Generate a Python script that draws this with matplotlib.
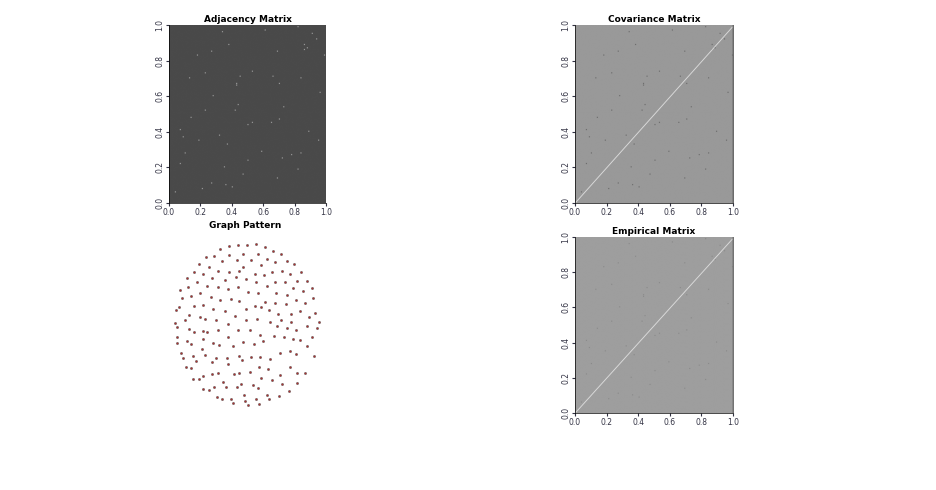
import numpy as np
import matplotlib.pyplot as plt

# edges (x, y in 0..1)
edge_x = [0.04, 0.07, 0.07, 0.09, 0.10, 0.13, 0.14, 0.18, 0.19, 0.21, 0.23, 0.23, 0.27, 0.27,
          0.28, 0.32, 0.34, 0.35, 0.36, 0.37, 0.38, 0.40, 0.42, 0.43, 0.43, 0.44, 0.45, 0.47,
          0.50, 0.50, 0.53, 0.53, 0.59, 0.61, 0.65, 0.66, 0.69, 0.69, 0.70, 0.70, 0.72, 0.73,
          0.78, 0.82, 0.82, 0.84, 0.84, 0.86, 0.86, 0.88, 0.89, 0.91, 0.94, 0.95, 0.96, 0.99]
edge_y = [0.06, 0.22, 0.41, 0.37, 0.28, 0.70, 0.48, 0.83, 0.35, 0.08, 0.73, 0.52, 0.11, 0.85,
          0.60, 0.38, 0.96, 0.20, 0.10, 0.33, 0.89, 0.09, 0.52, 0.67, 0.66, 0.55, 0.71, 0.16,
          0.24, 0.44, 0.45, 0.74, 0.29, 0.97, 0.45, 0.71, 0.85, 0.14, 0.67, 0.47, 0.25, 0.54,
          0.27, 0.99, 0.19, 0.28, 0.70, 0.86, 0.89, 0.87, 0.40, 0.95, 0.92, 0.35, 0.62, 0.83]

# node layout (pixel-ish units, y downward)
node_x = [180, 208, 235, 262, 288, 316, 340, 364, 138, 162, 208, 250, 272, 293, 322, 346, 380, 403,
          118, 148, 186, 230, 302, 248, 101, 128, 174, 208, 236, 285, 312, 336, 366, 390, 424,
          82, 111, 157, 195, 228, 258, 288, 320, 346, 376, 412, 441,
          60, 85, 119, 140, 175, 203, 234, 265, 295, 347, 380, 400, 428, 457,
          67, 93, 152, 181, 212, 238, 284, 314, 346, 378, 408, 436, 458,
          49, 58, 101, 130, 160, 195, 257, 302, 328, 355, 392, 421, 465,
          75, 86, 120, 135, 168, 224, 259, 292, 330, 363, 393, 448, 476,
          46, 52, 88, 103, 128, 140, 174, 203, 235, 270, 300, 352, 380, 409, 440, 472,
          50, 51, 80, 94, 128, 158, 176, 205, 218, 250, 282, 310, 342, 372, 398, 421, 455,
          63, 68, 100, 108, 127, 135, 155, 167, 201, 204, 238, 245, 272, 301, 331, 360, 390, 408, 440, 461,
          79, 93, 128, 116, 100, 157, 173, 221, 237, 270, 296, 325, 361, 389, 412, 434,
          130, 147, 162, 190, 197, 230, 244, 280, 293, 304, 336, 366, 386, 411,
          172, 185, 214, 218, 252, 254, 263, 288, 298, 320, 328, 356]
node_y = [58, 48, 45, 45, 43, 52, 62, 72, 80, 78, 75, 72, 90, 72, 87, 97, 93, 103,
          102, 110, 94, 90, 104, 112, 125, 131, 122, 125, 122, 133, 135, 125, 123, 132, 125,
          145, 157, 143, 150, 140, 148, 156, 168, 157, 155, 152, 152,
          180, 172, 190, 169, 172, 177, 172, 186, 190, 188, 196, 173, 183, 175,
          205, 197, 200, 211, 208, 212, 227, 216, 218, 221, 210, 220, 205,
          240, 232, 228, 224, 237, 243, 237, 232, 240, 252, 252, 243, 250,
          270, 255, 262, 267, 270, 258, 270, 266, 275, 270, 275, 262, 275,
          278, 292, 297, 307, 302, 305, 301, 281, 300, 300, 316, 287, 294, 300, 288, 295,
          322, 340, 333, 343, 326, 340, 345, 320, 348, 335, 342, 332, 318, 322, 326, 330, 322,
          368, 385, 378, 392, 356, 376, 396, 384, 385, 403, 378, 390, 380, 380, 386, 370, 364, 372, 349, 379,
          412, 415, 438, 448, 448, 432, 428, 432, 430, 427, 410, 416, 436, 410, 430, 430,
          478, 480, 470, 455, 470, 470, 463, 466, 475, 445, 450, 463, 483, 460,
          502, 507, 506, 520, 494, 513, 526, 508, 522, 494, 508, 498]

n = 320
ex = np.clip((np.array(edge_x) * n).astype(int), 0, n - 2)
ey = np.clip((np.array(edge_y) * n).astype(int), 0, n - 2)

adj = np.full((n, n), 0.29)
cov = np.full((n, n), 0.6)
emp = np.full((n, n), 0.62)
for dx in (0, 1):
    for dy in (0, 1):
        adj[ey + dy, ex + dx] = 0.68
        cov[ey + dy, ex + dx] = 0.38
        emp[ey + dy, ex + dx] = 0.52
idx = np.arange(n - 1)
for m in (cov, emp):
    np.fill_diagonal(m, 0.92)
    m[idx, idx + 1] = 0.92
cov[:, -3:] = 0.42
emp[:, -3:] = 0.45

fig = plt.figure(figsize=(9.36, 4.9), dpi=100)
W, H = 936, 490


def add_ax(x0, y0, x1, y1):
    return fig.add_axes([x0 / W, 1 - y1 / H, (x1 - x0) / W, (y1 - y0) / H])


def style(ax, title):
    ax.set_title(title, fontsize=6.5, fontweight="bold", pad=2)
    ticks = [0.0, 0.2, 0.4, 0.6, 0.8, 1.0]
    ax.set_xticks(ticks)
    ax.set_yticks(ticks)
    ax.tick_params(labelsize=5.5, length=2, pad=1.5, colors="#333344")
    for lab in ax.get_yticklabels():
        lab.set_rotation(90)
        lab.set_va("center")
    for s in ["top", "right"]:
        ax.spines[s].set_visible(False)
    for s in ["left", "bottom"]:
        ax.spines[s].set_linewidth(0.5)


def show(ax, img):
    ax.imshow(img, cmap="gray", vmin=0, vmax=1, origin="lower",
              extent=[0, 1, 0, 1], aspect="auto", interpolation="antialiased")


ax1 = add_ax(169, 25, 326, 203)
show(ax1, adj)
style(ax1, "Adjacency Matrix")

ax2 = add_ax(575, 25, 733, 203)
show(ax2, cov)
style(ax2, "Covariance Matrix")

ax3 = add_ax(575, 237, 733, 413)
show(ax3, emp)
style(ax3, "Empirical Matrix")

ax4 = add_ax(160, 230, 330, 415)
ax4.scatter(node_x, node_y, s=2.5, c="#b03030", edgecolors="#404040", linewidths=0.3)
ax4.set_xlim(0, 510)
ax4.set_ylim(555, 0)
ax4.axis("off")
ax4.set_title("Graph Pattern", fontsize=6.5, fontweight="bold", pad=-2)

fig.savefig("out.png", dpi=100)
